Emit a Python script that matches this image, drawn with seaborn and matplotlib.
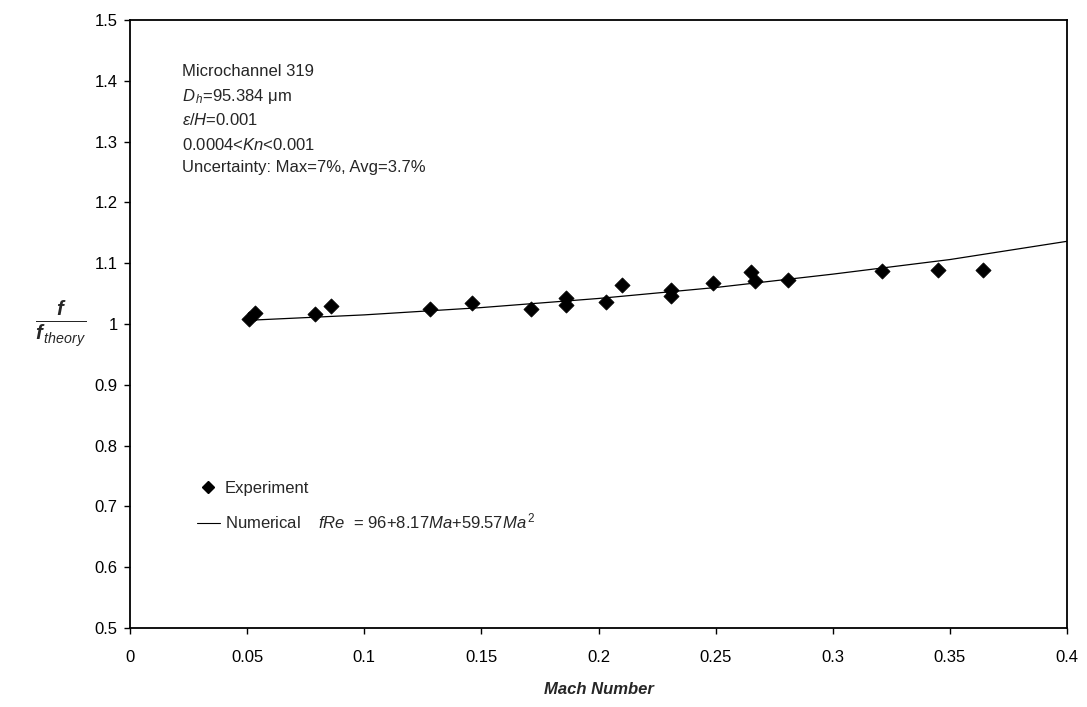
import numpy as np
import pandas as pd
import matplotlib
matplotlib.use("Agg")
import matplotlib.pyplot as plt
import seaborn as sns
from matplotlib.ticker import FuncFormatter, MultipleLocator
from matplotlib.lines import Line2D

# Experiment points
ma_exp = [0.0506, 0.0532, 0.079, 0.086, 0.128, 0.146, 0.171, 0.186, 0.186, 0.203,
          0.210, 0.231, 0.231, 0.249, 0.265, 0.267, 0.281, 0.321, 0.345, 0.364]
f_exp = [1.008, 1.018, 1.016, 1.030, 1.025, 1.035, 1.025, 1.043, 1.032, 1.036,
         1.064, 1.056, 1.046, 1.067, 1.085, 1.071, 1.072, 1.087, 1.089, 1.089]

# Numerical curve, read at a few Mach numbers
ma_num = [0.05, 0.10, 0.15, 0.20, 0.25, 0.30, 0.35, 0.40]
f_num = [1.006, 1.015, 1.027, 1.042, 1.060, 1.082, 1.106, 1.136]

info_lines = [
    "Microchannel 319",
    r"$D_{\,h}$=95.384 $\mathregular{\mu}$m",
    r"$\varepsilon/H$=0.001",
    r"0.0004<$Kn$<0.001",
    "Uncertainty: Max=7%, Avg=3.7%",
]

sns.set_style("white")
plt.rcParams["font.family"] = ["Liberation Sans", "DejaVu Sans"]
plt.rcParams["mathtext.fontset"] = "custom"
plt.rcParams["mathtext.rm"] = "Liberation Sans"
plt.rcParams["mathtext.it"] = "Liberation Sans:italic"
plt.rcParams["mathtext.bf"] = "Liberation Sans:bold:italic"

fig = plt.figure(figsize=(10.87, 7.07), dpi=100)
ax = fig.add_axes([130 / 1087, 1 - 628 / 707, 937 / 1087, 608 / 707])

exp_df = pd.DataFrame({"Ma": ma_exp, "f": f_exp})
num_df = pd.DataFrame({"Ma": ma_num, "f": f_num})

sns.lineplot(data=num_df, x="Ma", y="f", ax=ax, color="black", linewidth=0.9, zorder=2)
sns.scatterplot(data=exp_df, x="Ma", y="f", ax=ax, marker="D", s=60, color="black",
                edgecolor="black", linewidth=0.5, zorder=3)

ax.set_xlim(0, 0.4)
ax.set_ylim(0.5, 1.5)
ax.xaxis.set_major_locator(MultipleLocator(0.05))
ax.yaxis.set_major_locator(MultipleLocator(0.1))
fmt = FuncFormatter(lambda v, p: f"{v:.2f}".rstrip("0").rstrip("."))
ax.xaxis.set_major_formatter(fmt)
ax.yaxis.set_major_formatter(fmt)
ax.tick_params(axis="both", direction="out", length=4, width=1, labelsize=12,
               colors="black", bottom=True, left=True, top=False, right=False)
ax.tick_params(axis="x", pad=12)
ax.tick_params(axis="y", pad=5)

for sp in ax.spines.values():
    sp.set_visible(True)
    sp.set_color("black")
    sp.set_linewidth(1.3)

ax.set_xlabel("Mach Number", fontsize=12, fontweight="bold", fontstyle="italic", labelpad=12)
ax.set_ylabel(r"$\frac{\mathbf{f}}{\mathbf{f}_{\,theory}}$", fontsize=21, rotation=0,
              labelpad=24, va="center")

ys = [0.9145, 0.875, 0.8355, 0.794, 0.757]
for txt, yy in zip(info_lines, ys):
    ax.text(0.0555, yy, txt, transform=ax.transAxes, fontsize=12, va="center", ha="left")

handles = [
    Line2D([], [], marker="D", color="black", linestyle="none", markersize=6),
    Line2D([], [], color="black", linewidth=0.8),
]
labels = ["Experiment",
          r"Numerical    $fRe$  = 96+8.17$Ma$+59.57$Ma^{\,2}$"]
ax.legend(handles, labels, loc="center left", bbox_to_anchor=(0.055, 0.2), frameon=False,
          fontsize=12, handlelength=1.4, handletextpad=0.3, labelspacing=0.95)

fig.savefig("out.png", dpi=100)
